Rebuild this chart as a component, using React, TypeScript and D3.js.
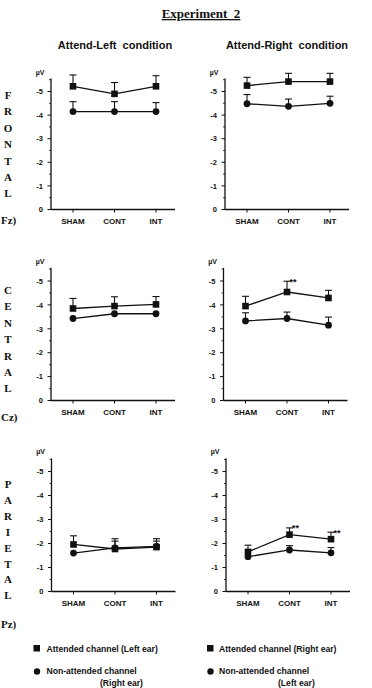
import React from 'react';
import * as d3 from 'd3';

const categories = ["SHAM", "CONT", "INT"];
const yTicks = [0, 1, 2, 3, 4, 5];

// mean amplitudes (negative µV, plotted upward) and SE (0 = hidden)
const frontalLeftAtt = [5.22, 4.9, 5.22];
const frontalLeftAttSe = [0.48, 0.48, 0.45];
const frontalLeftNon = [4.15, 4.15, 4.15];
const frontalLeftNonSe = [0.42, 0.42, 0.38];

const frontalRightAtt = [5.25, 5.42, 5.42];
const frontalRightAttSe = [0.35, 0.35, 0.35];
const frontalRightNon = [4.48, 4.37, 4.5];
const frontalRightNonSe = [0.39, 0.31, 0.3];

const centralLeftAtt = [3.85, 3.95, 4.02];
const centralLeftAttSe = [0.42, 0.39, 0.33];
const centralLeftNon = [3.43, 3.63, 3.63];
const centralLeftNonSe = [0, 0, 0];

const centralRightAtt = [3.95, 4.54, 4.29];
const centralRightAttSe = [0.41, 0.45, 0.32];
const centralRightNon = [3.33, 3.43, 3.15];
const centralRightNonSe = [0.34, 0.27, 0.34];

const parietalLeftAtt = [1.96, 1.77, 1.85];
const parietalLeftAttSe = [0.36, 0.43, 0.35];
const parietalLeftNon = [1.6, 1.82, 1.88];
const parietalLeftNonSe = [0, 0.28, 0.22];

const parietalRightAtt = [1.65, 2.37, 2.18];
const parietalRightAttSe = [0.28, 0.28, 0.29];
const parietalRightNon = [1.45, 1.73, 1.61];
const parietalRightNonSe = [0, 0.18, 0.22];

const centralRightSig = ["", "**", ""];
const parietalRightSig = ["", "**", "**"];

const rowLetters = [
  {word: "FRONTAL", tag: "Fz)"},
  {word: "CENTRAL", tag: "Cz)"},
  {word: "PARIETAL", tag: "Pz)"},
];

const SANS = "'Liberation Sans', Arial, sans-serif";
const SERIF = "'Liberation Serif', 'Times New Roman', serif";
const INK = "#111";

interface PanelProps {
  axisX: number,
  baseY: number,
  unit: number,
  att: number[],
  attSe: number[],
  non: number[],
  nonSe: number[],
  sig?: string[]
}

function Panel({axisX, baseY, unit, att, attSe, non, nonSe, sig}: PanelProps) {
  const y = d3.scaleLinear().domain([0, 5]).range([baseY, baseY - 5 * unit]);
  const x = d3.scalePoint<string>().domain(categories).range([axisX + 22, axisX + 105]);
  const line = d3.line<number>()
    .x((d, i) => x(categories[i]) as number)
    .y(d => y(d));
  const minor = d3.range(0.5, 5.6, 1);

  const errBar = (v: number, se: number, i: number, key: string) => {
    if (!se) return null;
    const cx = x(categories[i]) as number;
    return (
      <g key={key}>
        <line x1={cx} x2={cx} y1={y(v)} y2={y(v + se)} stroke={INK} strokeWidth={1.1}/>
        <line x1={cx - 3.5} x2={cx + 3.5} y1={y(v + se)} y2={y(v + se)} stroke={INK} strokeWidth={1.1}/>
      </g>
    );
  };

  return (
    <g>
      <text x={axisX - 11} y={y(5.55) - 4} fontFamily={SANS} fontWeight="bold" fontSize={7} textAnchor="middle" fill={INK}>µV</text>
      <line x1={axisX} x2={axisX} y1={y(5.55)} y2={baseY} stroke={INK} strokeWidth={1.3}/>
      <line x1={axisX} x2={axisX + 124} y1={baseY} y2={baseY} stroke={INK} strokeWidth={1.3}/>
      {yTicks.map(t => (
        <g key={"t" + t}>
          <line x1={axisX - 3.5} x2={axisX} y1={y(t)} y2={y(t)} stroke={INK} strokeWidth={1}/>
          <text x={axisX - 8} y={y(t) + 2.7} fontFamily={SANS} fontWeight="bold" fontSize={7.5} textAnchor="end" fill={INK}>
            {t === 0 ? "0" : "-" + t}
          </text>
        </g>
      ))}
      {minor.map(t => (
        <line key={"m" + t} x1={axisX - 2} x2={axisX} y1={y(t)} y2={y(t)} stroke={INK} strokeWidth={0.8}/>
      ))}
      {categories.map(c => (
        <g key={c}>
          <line x1={x(c)} x2={x(c)} y1={baseY} y2={baseY + 3} stroke={INK} strokeWidth={1}/>
          <text x={x(c)} y={baseY + 14} fontFamily={SANS} fontWeight="bold" fontSize={8} textAnchor="middle" fill={INK}>{c}</text>
        </g>
      ))}
      {non.map((v, i) => errBar(v, nonSe[i], i, "ne" + i))}
      {att.map((v, i) => errBar(v, attSe[i], i, "ae" + i))}
      <path d={line(non) || ""} fill="none" stroke={INK} strokeWidth={1.3}/>
      <path d={line(att) || ""} fill="none" stroke={INK} strokeWidth={1.3}/>
      {non.map((v, i) => (
        <circle key={"nc" + i} cx={x(categories[i])} cy={y(v)} r={3.4} fill={INK}/>
      ))}
      {att.map((v, i) => (
        <rect key={"ar" + i} x={(x(categories[i]) as number) - 3.3} y={y(v) - 3.3} width={6.6} height={6.6} fill={INK}/>
      ))}
      {sig && sig.map((s, i) => s ? (
        <text key={"s" + i} x={(x(categories[i]) as number) + 2.5} y={y(att[i] + attSe[i]) + 3.5} fontFamily={SANS} fontWeight="bold" fontSize={9} fill={INK}>{s}</text>
      ) : null)}
    </g>
  );
}

export default function App() {
  const leftX = 51;
  const rightX = 225;
  const rows = [
    {base: 209.5, unit: 23.6, top: 95, step: 16.4, tagY: 224},
    {base: 400.5, unit: 23.9, top: 290, step: 16.4, tagY: 421},
    {base: 591.5, unit: 24, top: 484, step: 15.9, tagY: 628},
  ];

  return (
    <svg width={372} height={688} style={{position: "absolute", left: 0, top: 0, background: "#fff"}}>
      <text x={201} y={18} fontFamily={SERIF} fontWeight="bold" fontSize={13} textAnchor="middle" fill={INK}
            textDecoration="underline" style={{whiteSpace: "pre"}}>Experiment  2</text>
      <text x={115} y={49} fontFamily={SANS} fontWeight="bold" fontSize={11} textAnchor="middle" fill={INK}
            style={{whiteSpace: "pre"}}>Attend-Left  condition</text>
      <text x={287} y={49} fontFamily={SANS} fontWeight="bold" fontSize={11} textAnchor="middle" fill={INK}
            style={{whiteSpace: "pre"}}>Attend-Right  condition</text>

      {rowLetters.map((r, ri) => (
        <g key={r.tag}>
          {r.word.split("").map((ch, k) => (
            <text key={k} x={8} y={rows[ri].top + k * rows[ri].step + 4} fontFamily={SERIF} fontWeight="bold" fontSize={11}
                  textAnchor="middle" fill={INK}>{ch}</text>
          ))}
          <text x={1} y={rows[ri].tagY} fontFamily={SERIF} fontWeight="bold" fontSize={11} fill={INK}
                style={{whiteSpace: "pre"}}>{r.tag}</text>
        </g>
      ))}

      <Panel axisX={leftX} baseY={rows[0].base} unit={rows[0].unit}
             att={frontalLeftAtt} attSe={frontalLeftAttSe} non={frontalLeftNon} nonSe={frontalLeftNonSe}/>
      <Panel axisX={rightX} baseY={rows[0].base} unit={rows[0].unit}
             att={frontalRightAtt} attSe={frontalRightAttSe} non={frontalRightNon} nonSe={frontalRightNonSe}/>
      <Panel axisX={leftX} baseY={rows[1].base} unit={rows[1].unit}
             att={centralLeftAtt} attSe={centralLeftAttSe} non={centralLeftNon} nonSe={centralLeftNonSe}/>
      <Panel axisX={rightX - 1.5} baseY={rows[1].base} unit={rows[1].unit}
             att={centralRightAtt} attSe={centralRightAttSe} non={centralRightNon} nonSe={centralRightNonSe}
             sig={centralRightSig}/>
      <Panel axisX={leftX + 0.5} baseY={rows[2].base} unit={rows[2].unit}
             att={parietalLeftAtt} attSe={parietalLeftAttSe} non={parietalLeftNon} nonSe={parietalLeftNonSe}/>
      <Panel axisX={rightX + 1} baseY={rows[2].base} unit={rows[2].unit}
             att={parietalRightAtt} attSe={parietalRightAttSe} non={parietalRightNon} nonSe={parietalRightNonSe}
             sig={parietalRightSig}/>

      {/* legend */}
      <g fontFamily={SANS} fontWeight="bold" fontSize={8.6} fill={INK}>
        <rect x={33.5} y={645} width={6.5} height={6.5} fill={INK}/>
        <text x={46.5} y={651.5}>Attended channel (Left ear)</text>
        <circle cx={37} cy={671.5} r={3.2} fill={INK}/>
        <text x={46.5} y={674}>Non-attended channel</text>
        <text x={100} y={685.5}>(Right ear)</text>

        <rect x={207} y={645} width={6.5} height={6.5} fill={INK}/>
        <text x={219} y={651.5}>Attended channel (Right ear)</text>
        <circle cx={210.5} cy={671.5} r={3.2} fill={INK}/>
        <text x={219} y={674}>Non-attended channel</text>
        <text x={278} y={685.5}>(Left ear)</text>
      </g>
    </svg>
  );
}
